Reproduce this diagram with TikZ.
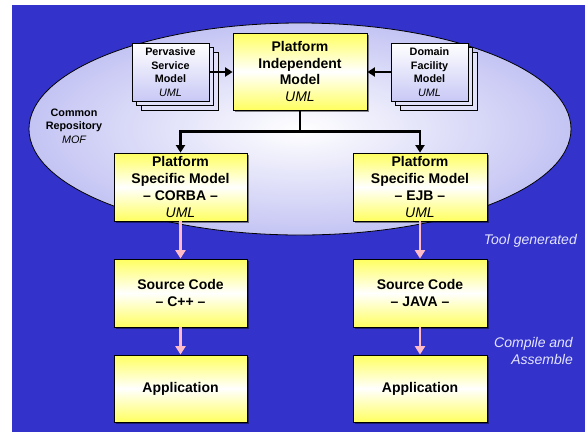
\documentclass[tikz,border=0pt]{standalone}
\usepackage{fontspec}
\setmainfont{Liberation Sans}
\usetikzlibrary{arrows.meta,shadows}
\definecolor{slideblue}{RGB}{51,51,204}
\definecolor{repolav}{RGB}{196,196,244}
\definecolor{boxyellow}{RGB}{255,255,96}
\definecolor{stacklav}{RGB}{200,200,246}
\definecolor{genpink}{RGB}{255,188,200}
\definecolor{notewhite}{RGB}{228,228,255}
\def\umltag#1{{\mdseries\itshape #1}}

\begin{document}
\begin{tikzpicture}[x=1pt, y=-1pt,
		bigfont/.style={font=\fontsize{14}{16.8}\selectfont\bfseries},
		smallfont/.style={font=\fontsize{10.8}{13.6}\selectfont\bfseries},
		modelbox/.style={draw=black, line width=0.8pt, align=center, inner sep=0pt,
			top color=boxyellow, bottom color=boxyellow, middle color=white,
			drop shadow={shadow xshift=1.5pt, shadow yshift=-1.5pt, fill=black, opacity=0.45}},
		stackbox/.style={draw=black, line width=0.8pt, align=center, inner sep=0pt,
			minimum width=77pt, minimum height=58pt, smallfont,
			top color=white, bottom color=stacklav,
			double copy shadow={shadow xshift=4.7pt, shadow yshift=-4.7pt,
				fill=stacklav!55, draw=black, line width=0.8pt}},
		modelarrow/.style={line width=2.6pt, -{Triangle[length=7.5pt,width=9pt]}},
		genarrow/.style={genpink, line width=2.8pt, -{Triangle[length=8.5pt,width=10pt]}},
		notetext/.style={text=notewhite, font=\fontsize{14}{17}\selectfont\itshape, inner sep=0pt}]
			%%%%% START %%%%%
			
			\useasboundingbox (0,0) rectangle (585,432);
			\fill[slideblue] (12,5) rectangle (585,432);
			
			% common repository
			\draw[line width=0.8pt, shading=radial, inner color=white, outer color=repolav]
				(300,129) ellipse [x radius=271pt, y radius=106pt];
			\node[smallfont, align=center, inner sep=0pt] (repo) at (74,126)
				{Common\\Repository\\\umltag{MOF}};
			
			% models
			\node[modelbox, bigfont, minimum width=134pt, minimum height=77pt] (pim) at (300,71.5)
				{Platform\\Independent\\Model\\\umltag{UML}};
			\node[stackbox] (pervasive) at (170.5,72) {Pervasive\\Service\\Model\\\umltag{UML}};
			\node[stackbox] (domain) at (429.5,72) {Domain\\Facility\\Model\\\umltag{UML}};
			
			\node[modelbox, bigfont, minimum width=133pt, minimum height=68pt] (psmc) at (180.5,187)
				{Platform\\Specific Model\\-- CORBA --\\\umltag{UML}};
			\node[modelbox, bigfont, minimum width=134pt, minimum height=68pt] (psme) at (420,187)
				{Platform\\Specific Model\\-- EJB --\\\umltag{UML}};
			
			\node[modelbox, bigfont, minimum width=133pt, minimum height=68pt] (srcc) at (180.5,293)
				{Source Code\\-- C++ --};
			\node[modelbox, bigfont, minimum width=134pt, minimum height=68pt] (srce) at (420,293)
				{Source Code\\-- JAVA --};
			
			\node[modelbox, bigfont, minimum width=133pt, minimum height=67pt] (appc) at (180.5,388.5)
				{Application};
			\node[modelbox, bigfont, minimum width=134pt, minimum height=67pt] (appe) at (420,388.5)
				{Application};
			
			% arrows
			\draw[modelarrow] (pervasive.east) -- (pervasive.east -| pim.west);
			\draw[modelarrow] (domain.west) -- (domain.west -| pim.east);
			\draw[modelarrow] (pim.south) -- ++(0,21) -| (psmc.north);
			\draw[modelarrow] (pim.south) -- ++(0,21) -| (psme.north);
			
			\draw[genarrow] (psmc) -- (srcc);
			\draw[genarrow] (srcc) -- (appc);
			\draw[genarrow] (psme) -- (srce);
			\draw[genarrow] (srce) -- (appe);
			
			% notes
			\node[notetext, anchor=base east] (toolnote) at (577,244) {Tool generated};
			\node[notetext, align=right, anchor=east] (compilenote) at (573,351)
				{Compile and\\Assemble};
			
			%%%%% END %%%%%
		\end{tikzpicture}
\end{document}
